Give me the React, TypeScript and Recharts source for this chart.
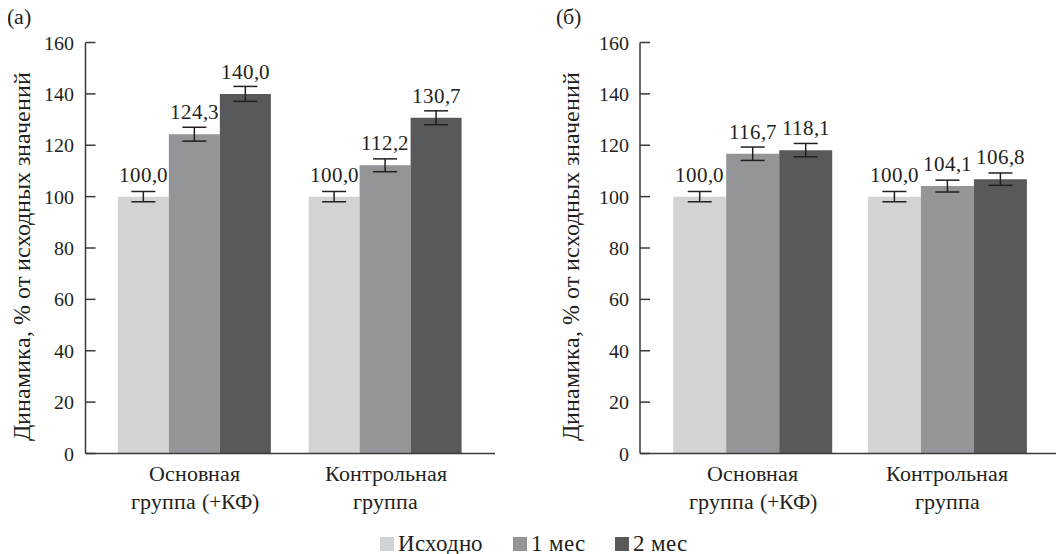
import React from 'react';
import { BarChart, Bar, XAxis, YAxis, ErrorBar, LabelList, Legend } from 'recharts';

const categories = ['Основная группа (+КФ)', 'Контрольная группа'];
const seriesNames = ['Исходно', '1 мес', '2 мес'];
const seriesColors = ['#d1d3d4', '#939598', '#58595b'];
const yTicks = [0, 20, 40, 60, 80, 100, 120, 140, 160];
const yAxisTitle = 'Динамика, % от исходных значений';

// Panel (а)
const panelA_base = [100.0, 100.0];
const panelA_1m = [124.3, 112.2];
const panelA_2m = [140.0, 130.7];
const panelA_baseErr = [2.0, 2.0];
const panelA_1mErr = [2.7, 2.5];
const panelA_2mErr = [2.9, 2.7];

// Panel (б)
const panelB_base = [100.0, 100.0];
const panelB_1m = [116.7, 104.1];
const panelB_2m = [118.1, 106.8];
const panelB_baseErr = [2.0, 2.0];
const panelB_1mErr = [2.6, 2.3];
const panelB_2mErr = [2.6, 2.4];

const serifNames = ['RefSerif', 'Liberation Serif', 'Times New Roman', 'Tinos'];
const FONT = serifNames.map((f) => `"${f}"`).join(', ') + ', serif';
const TEXT = '#231f20';
const AXIS = '#3a3a3a';

const fontCss = `@font-face { font-family: "RefSerif"; src: local("Liberation Serif"), local("LiberationSerif"), local("LiberationSerif-Regular"), local("Liberation Serif Regular"); }
#root, #root * { font-family: ${FONT}; }`;

function buildRows(vals: number[][], errs: number[][]) {
  return categories.map((c, i) => ({
    category: c,
    v0: vals[0][i], v1: vals[1][i], v2: vals[2][i],
    e0: errs[0][i], e1: errs[1][i], e2: errs[2][i],
  }));
}

const rowsA = buildRows([panelA_base, panelA_1m, panelA_2m], [panelA_baseErr, panelA_1mErr, panelA_2mErr]);
const rowsB = buildRows([panelB_base, panelB_1m, panelB_2m], [panelB_baseErr, panelB_1mErr, panelB_2mErr]);

const fmt = (v: any) => Number(v).toFixed(1).replace('.', ',');

const CategoryTick = (props: any) => {
  const { x, y, payload } = props;
  const text: string = String(payload.value);
  const idx = text.indexOf(' ');
  const l1 = idx > 0 ? text.slice(0, idx) : text;
  const l2 = idx > 0 ? text.slice(idx + 1) : '';
  return (
    <text x={x} y={y + 19} textAnchor="middle" fill={TEXT} fontSize={22} style={{ fontFamily: FONT }}>
      <tspan x={x} dy={0}>{l1}</tspan>
      {l2 && <tspan x={x} dy={28}>{l2}</tspan>}
    </text>
  );
};

const makeYTitle = (dx: number) => (props: any) => {
  const vb = props.viewBox || { x: 0, y: 0, width: 0, height: 0 };
  const cx = vb.x + dx;
  const cy = vb.y + vb.height / 2 + 8.5;
  return (
    <text
      x={cx}
      y={cy}
      transform={`rotate(-90, ${cx}, ${cy})`}
      textAnchor="middle"
      dy="0.33em"
      fill={TEXT}
      fontSize={24}
      style={{ fontFamily: FONT }}
    >
      {yAxisTitle}
    </text>
  );
};

const renderLegend = () => (
  <div style={{ display: 'flex', justifyContent: 'center', alignItems: 'baseline', fontFamily: FONT, fontSize: 23, lineHeight: '23px', color: TEXT, whiteSpace: 'nowrap', paddingLeft: 3 }}>
    {seriesNames.map((n, i) => (
      <span key={i} style={{ marginLeft: i ? 30 : 0 }}>
        <span style={{ display: 'inline-block', width: 14, height: 14, background: seriesColors[i], marginRight: 4 }} />
        {n}
      </span>
    ))}
  </div>
);

type PanelProps = {
  rows: any[];
  width: number;
  axisWidth: number;
  rightMargin: number;
  xPad: number;
  catGap: number;
  yLabelX: number;
  withLegend?: boolean;
};

function Panel({ rows, width, axisWidth, rightMargin, xPad, catGap, yLabelX, withLegend }: PanelProps) {
  return (
    <BarChart
      width={width}
      height={554}
      data={rows}
      margin={{ top: 42.5, right: rightMargin, bottom: 40.5, left: 0 }}
      barCategoryGap={catGap}
      barGap={0}
    >
      <XAxis
        dataKey="category"
        height={60}
        padding={{ left: xPad, right: xPad }}
        tickLine={false}
        axisLine={{ stroke: AXIS, strokeWidth: 1.5 }}
        tick={<CategoryTick />}
        interval={0}
      />
      <YAxis
        width={axisWidth}
        domain={[0, 160]}
        ticks={yTicks}
        interval={0}
        tickSize={-10}
        tickMargin={21.5}
        axisLine={{ stroke: AXIS, strokeWidth: 1.5 }}
        tickLine={{ stroke: AXIS, strokeWidth: 1.5 }}
        tick={{ fill: TEXT, fontSize: 20, style: { fontFamily: FONT } }}
        label={{ content: makeYTitle(yLabelX) }}
      />
      {seriesNames.map((n, k) => (
        <Bar key={k} dataKey={`v${k}`} name={n} fill={seriesColors[k]} isAnimationActive={false}>
          <ErrorBar dataKey={`e${k}`} width={12} stroke={TEXT} strokeWidth={1.5} direction="y" isAnimationActive={false} />
          <LabelList dataKey={`v${k}`} position="top" offset={15} formatter={fmt} fill={TEXT} fontSize={21} style={{ fontFamily: FONT }} />
        </Bar>
      ))}
      {withLegend && (
        <Legend
          layout="horizontal"
          verticalAlign="middle"
          align="center"
          content={renderLegend}
          wrapperStyle={{ position: 'absolute', left: 0, top: 531.7, width: 1064, height: 23 }}
        />
      )}
    </BarChart>
  );
}

export default function App() {
  return (
    <div style={{ position: 'relative', width: 1064, height: 554, margin: '-8px 0 0 -8px', fontFamily: FONT, color: TEXT }}>
      <style>{fontCss}</style>
      <div style={{ display: 'flex' }}>
        <Panel rows={rowsA} width={540} axisWidth={85.5} rightMargin={45} xPad={14} catGap={18.35} yLabelX={22} withLegend />
        <Panel rows={rowsB} width={524} axisWidth={100} rightMargin={4} xPad={15.3} catGap={17.9} yLabelX={31} />
      </div>
      <div style={{ position: 'absolute', left: 7, top: 6, fontSize: 22, lineHeight: '22px' }}>(а)</div>
      <div style={{ position: 'absolute', left: 556, top: 6, fontSize: 22, lineHeight: '22px' }}>(б)</div>
    </div>
  );
}
